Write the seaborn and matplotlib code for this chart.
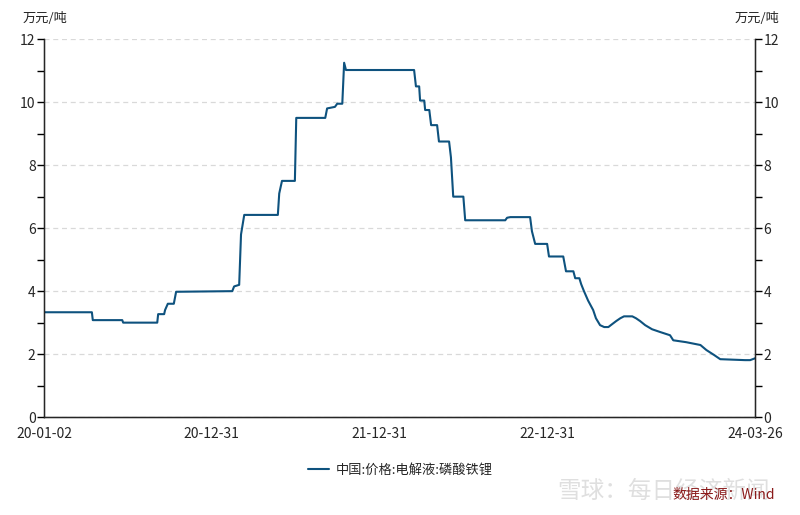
import pandas as pd
import numpy as np
import matplotlib
matplotlib.use('Agg')
import matplotlib.pyplot as plt
import matplotlib.dates as mdates
import seaborn as sns

# 数据：中国:价格:电解液:磷酸铁锂（万元/吨）
dates = ['2020-01-02', '2020-04-15', '2020-04-17', '2020-06-20', '2020-06-22',
         '2020-09-04', '2020-09-06', '2020-09-19', '2020-09-21', '2020-09-27',
         '2020-10-10', '2020-10-15', '2021-02-14', '2021-02-18', '2021-03-01',
         '2021-03-05', '2021-03-12', '2021-05-24', '2021-05-27', '2021-06-02',
         '2021-06-30', '2021-07-03', '2021-09-04', '2021-09-08', '2021-09-25',
         '2021-09-30', '2021-10-11', '2021-10-15', '2021-10-19', '2022-03-16',
         '2022-03-20', '2022-03-27', '2022-03-29', '2022-04-07', '2022-04-09',
         '2022-04-18', '2022-04-22', '2022-05-05', '2022-05-09', '2022-05-31',
         '2022-06-04', '2022-06-09', '2022-07-01', '2022-07-05', '2022-09-30',
         '2022-10-04', '2022-10-11', '2022-11-23', '2022-11-27', '2022-12-04',
         '2022-12-30', '2023-01-03', '2023-02-03', '2023-02-09', '2023-02-25',
         '2023-03-01', '2023-03-10', '2023-03-14', '2023-03-20', '2023-03-29',
         '2023-04-09', '2023-04-15', '2023-04-24', '2023-05-03', '2023-05-12',
         '2023-05-20', '2023-05-29', '2023-06-07', '2023-06-15', '2023-07-03',
         '2023-07-11', '2023-07-20', '2023-07-31', '2023-08-15', '2023-09-02',
         '2023-09-23', '2023-09-30', '2023-10-28', '2023-11-28', '2023-12-11',
         '2023-12-28', '2024-01-10', '2024-03-04', '2024-03-15', '2024-03-26']
price = [3.33, 3.33, 3.08, 3.08, 3.0,
         3.0, 3.27, 3.27, 3.4, 3.6,
         3.6, 3.98, 4.0, 4.15, 4.2,
         5.8, 6.42, 6.42, 7.1, 7.5,
         7.5, 9.5, 9.5, 9.8, 9.85,
         9.95, 9.95, 11.25, 11.02, 11.02,
         10.5, 10.5, 10.05, 10.05, 9.75,
         9.75, 9.27, 9.27, 8.75, 8.75,
         8.25, 7.0, 7.0, 6.25, 6.25,
         6.33, 6.35, 6.35, 5.9, 5.5,
         5.5, 5.1, 5.1, 4.63, 4.63,
         4.41, 4.41, 4.22, 4.0, 3.7,
         3.4, 3.14, 2.92, 2.86, 2.86,
         2.95, 3.05, 3.14, 3.2, 3.2,
         3.14, 3.05, 2.92, 2.79, 2.7,
         2.6, 2.44, 2.38, 2.29, 2.13,
         1.97, 1.84, 1.81, 1.81, 1.87]

label_dates = ['2020-01-02', '2020-12-31', '2021-12-31', '2022-12-31', '2024-03-26']
label_text = ['20-01-02', '20-12-31', '21-12-31', '22-12-31', '24-03-26']
series_name = '中国:价格:电解液:磷酸铁锂'

df = pd.DataFrame({'date': pd.to_datetime(dates), 'price': price})

sns.set_style('white')
plt.rcParams['font.family'] = ['Noto Sans CJK SC', 'DejaVu Sans']

fig = plt.figure(figsize=(8, 5.15), dpi=100)
ax = fig.add_axes([0.055, 0.19, 0.889, 0.734])

sns.lineplot(data=df, x='date', y='price', ax=ax, color='#0e527e', linewidth=1.5,
             label=series_name)

# 坐标轴
start = pd.Timestamp(label_dates[0])
end = pd.Timestamp(label_dates[-1])
ax.set_xlim(start, end)
ax.set_ylim(0, 12)
ax.set_xlabel('')
ax.set_ylabel('')

year_len = (pd.Timestamp('2022-12-31') - start) / 12
minor = [start + year_len * k for k in range(17)]
ax.set_xticks([mdates.date2num(d) for d in minor], minor=True)
ax.set_xticks([mdates.date2num(pd.Timestamp(d)) for d in label_dates])
ax.set_xticklabels(label_text)

ax.set_yticks(range(0, 13, 2))
ax.set_yticks(range(1, 13, 2), minor=True)
ax.yaxis.grid(True, which='major', linestyle=(0, (4, 3)), color='#d9d9d9', linewidth=0.9)
ax.set_axisbelow(True)

ax.tick_params(axis='both', which='both', direction='out', length=5, width=1,
               color='black', labelsize=10, pad=1)
ax.tick_params(axis='x', which='major', length=6)

ax.spines['top'].set_visible(False)
for s in ['left', 'bottom', 'right']:
    ax.spines[s].set_color('black')
    ax.spines[s].set_linewidth(1)

ax2 = ax.twinx()
ax2.set_ylim(0, 12)
ax2.set_yticks(range(0, 13, 2))
ax2.set_yticks(range(1, 13, 2), minor=True)
ax2.tick_params(axis='y', which='both', direction='out', length=5, width=1,
                color='black', labelsize=10, pad=1)
ax2.spines['top'].set_visible(False)
ax2.grid(False)

fig.text(0.028, 0.965, '万元/吨', fontsize=9.5, ha='left', va='center')
fig.text(0.974, 0.965, '万元/吨', fontsize=9.5, ha='right', va='center')

# 图例放在下方
ax.legend(loc='center', bbox_to_anchor=(0.5, 0.087), bbox_transform=fig.transFigure,
          frameon=False, fontsize=9.5, handlelength=1.6, handletextpad=0.5)

# 水印和来源
fig.text(0.83, 0.045, '雪球：每日经济新闻', fontsize=17, color='#dcdcdc',
         ha='center', va='center', alpha=0.9)
fig.text(0.905, 0.038, '数据来源：Wind', fontsize=10, color='#8b1a1a',
         ha='center', va='center')

fig.savefig('out.png', dpi=100)
